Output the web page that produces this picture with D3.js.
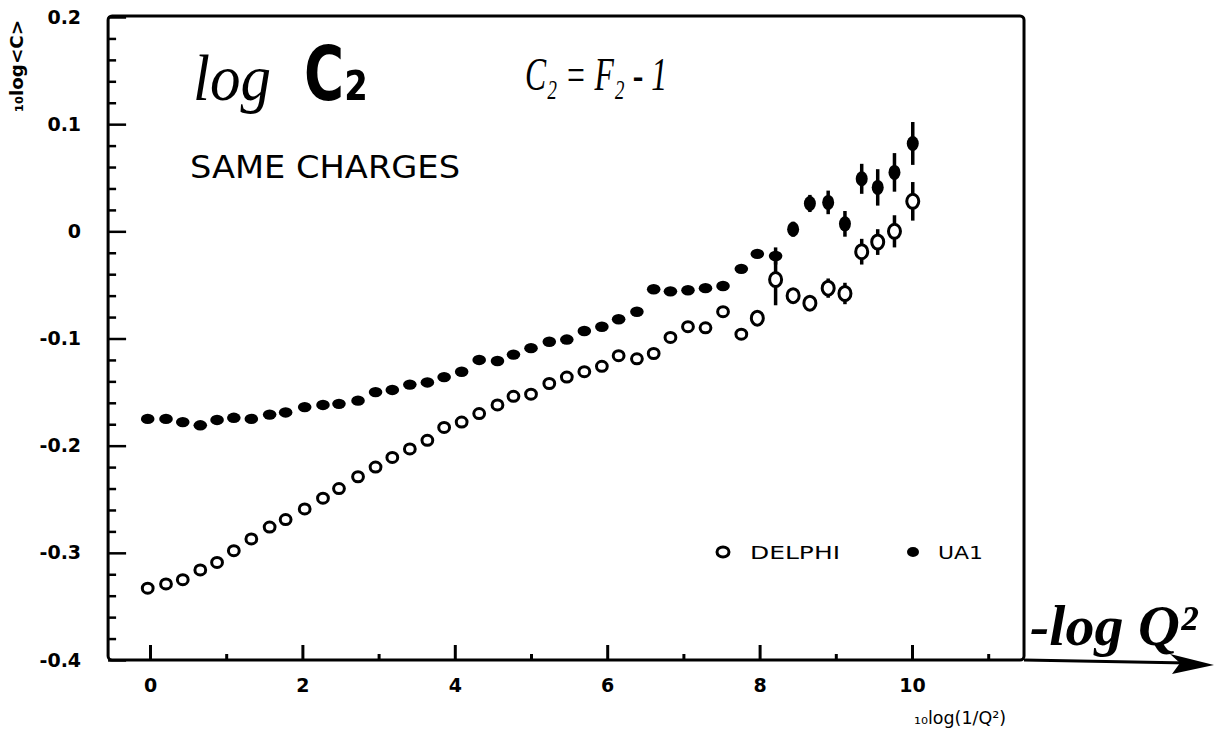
<!DOCTYPE html>
<html>
<head>
<meta charset="utf-8">
<script src="https://cdn.jsdelivr.net/npm/d3@7"></script>
<style>
  html, body { margin: 0; padding: 0; background: #fff; }
  svg { display: block; }
</style>
</head>
<body>
<svg id="chart" width="1227" height="735"></svg>
<script>
// ---------- data ----------
const xValues = [-0.03, 0.21, 0.43, 0.66, 0.88, 1.10, 1.33, 1.57, 1.78, 2.03,
                 2.27, 2.48, 2.73, 2.96, 3.18, 3.41, 3.64, 3.86, 4.09, 4.32,
                 4.56, 4.77, 5.00, 5.24, 5.47, 5.70, 5.93, 6.15, 6.39, 6.61,
                 6.83, 7.06, 7.29, 7.52, 7.76, 7.97, 8.21, 8.44, 8.66, 8.90,
                 9.12, 9.34, 9.55, 9.77, 10.01];

const ua1Values = [-0.175, -0.175, -0.178, -0.181, -0.176, -0.174, -0.175, -0.171, -0.169, -0.164,
                   -0.162, -0.161, -0.158, -0.150, -0.148, -0.143, -0.141, -0.136, -0.131, -0.120,
                   -0.121, -0.115, -0.109, -0.103, -0.101, -0.093, -0.089, -0.082, -0.075, -0.054,
                   -0.056, -0.055, -0.053, -0.051, -0.035, -0.021, -0.023, 0.002, 0.026, 0.027,
                   0.007, 0.049, 0.041, 0.055, 0.082];
const ua1Errors = [0, 0, 0, 0, 0, 0, 0, 0, 0, 0,
                   0, 0, 0, 0, 0, 0, 0, 0, 0, 0,
                   0, 0, 0, 0, 0, 0, 0, 0, 0, 0,
                   0, 0, 0, 0, 0, 0, 0.008, 0.007, 0.008, 0.011,
                   0.012, 0.014, 0.017, 0.018, 0.020];

const delphiValues = [-0.333, -0.329, -0.325, -0.316, -0.309, -0.298, -0.287, -0.276, -0.269, -0.259,
                      -0.249, -0.240, -0.229, -0.220, -0.211, -0.203, -0.195, -0.183, -0.178, -0.170,
                      -0.162, -0.154, -0.152, -0.142, -0.136, -0.131, -0.126, -0.116, -0.119, -0.114,
                      -0.099, -0.089, -0.090, -0.075, -0.096, -0.081, -0.045, -0.060, -0.067, -0.053,
                      -0.058, -0.019, -0.010, 0.000, 0.028];
const delphiErrors = [0, 0, 0, 0, 0, 0, 0, 0, 0, 0,
                      0, 0, 0, 0, 0, 0, 0, 0, 0, 0,
                      0, 0, 0, 0, 0, 0, 0, 0, 0, 0,
                      0, 0, 0, 0, 0, 0, 0.024, 0, 0, 0.009,
                      0.010, 0.012, 0.012, 0.015, 0.018];

const yMajorTicks = [0.2, 0.1, 0, -0.1, -0.2, -0.3, -0.4];
const yTickLabels = ["0.2", "0.1", "0", "-0.1", "-0.2", "-0.3", "-0.4"];
const yMinorTicks = [0.18, 0.16, 0.14, 0.12, 0.08, 0.06, 0.04, 0.02, -0.02, -0.04, -0.06, -0.08,
                     -0.12, -0.14, -0.16, -0.18, -0.22, -0.24, -0.26, -0.28, -0.32, -0.34, -0.36, -0.38];
const xMajorTicks = [0, 2, 4, 6, 8, 10];
const xTickLabels = ["0", "2", "4", "6", "8", "10"];
const xMinorTicks = [1, 3, 5, 7, 9, 11];

const seriesNames = ["DELPHI", "UA1"];

// ---------- drawing ----------
const svg = d3.select("#chart");
svg.append("rect").attr("width", 1227).attr("height", 735).attr("fill", "#fff");

const x = d3.scaleLinear().domain([0, 10]).range([150, 912]);
const y = d3.scaleLinear().domain([-0.4, 0.2]).range([660, 17]);

const frameLeft = x(-0.55), frameRight = x(11.47);
const frameTop = y(0.2) - 1, frameBottom = y(-0.4);

// frame
svg.append("rect")
  .attr("x", frameLeft).attr("y", frameTop)
  .attr("width", frameRight - frameLeft).attr("height", frameBottom - frameTop)
  .attr("rx", 4).attr("ry", 4)
  .attr("fill", "none").attr("stroke", "#000").attr("stroke-width", 3);

// arrow extending x axis
svg.append("path")
  .attr("d", `M${frameRight},${frameBottom} L1188,${frameBottom + 3}`)
  .attr("stroke", "#000").attr("stroke-width", 3.2).attr("fill", "none");
svg.append("path")
  .attr("d", `M1214,${frameBottom + 5} L1170,${frameBottom - 6} L1180,${frameBottom + 3} L1172,${frameBottom + 14} Z`)
  .attr("fill", "#000");

// y axis
const yAxisMajor = d3.axisLeft(y).tickValues(yMajorTicks).tickSize(-18).tickPadding(27)
  .tickFormat((d, i) => yTickLabels[i]);
const gy = svg.append("g").attr("transform", `translate(${frameLeft},0)`).call(yAxisMajor);
gy.select(".domain").remove();
gy.selectAll("line").attr("stroke", "#000").attr("stroke-width", 2.5);
gy.selectAll("text").attr("font-family", "DejaVu Sans").attr("font-weight", "bold")
  .attr("font-size", 19).attr("fill", "#000");

const gy2 = svg.append("g").attr("transform", `translate(${frameLeft},0)`)
  .call(d3.axisLeft(y).tickValues(yMinorTicks).tickSize(-8).tickFormat(""));
gy2.select(".domain").remove();
gy2.selectAll("line").attr("stroke", "#000").attr("stroke-width", 2.5);

// x axis
const gx = svg.append("g").attr("transform", `translate(0,${frameBottom})`)
  .call(d3.axisBottom(x).tickValues(xMajorTicks).tickSize(-15).tickPadding(19)
    .tickFormat((d, i) => xTickLabels[i]));
gx.select(".domain").remove();
gx.selectAll("line").attr("stroke", "#000").attr("stroke-width", 3);
gx.selectAll("text").attr("font-family", "DejaVu Sans").attr("font-weight", "bold")
  .attr("font-size", 19).attr("fill", "#000");

const gx2 = svg.append("g").attr("transform", `translate(0,${frameBottom})`)
  .call(d3.axisBottom(x).tickValues(xMinorTicks).tickSize(-6).tickFormat(""));
gx2.select(".domain").remove();
gx2.selectAll("line").attr("stroke", "#000").attr("stroke-width", 3);

// axis titles
svg.append("text")
  .attr("transform", "translate(23,66) rotate(-90)")
  .attr("text-anchor", "middle")
  .attr("font-family", "DejaVu Sans").attr("font-size", 18).attr("font-weight", "bold")
  .attr("textLength", 92).attr("lengthAdjust", "spacingAndGlyphs")
  .text("₁₀log<C>");

svg.append("text")
  .attr("x", 914).attr("y", 724)
  .attr("font-family", "DejaVu Sans").attr("font-size", 17)
  .attr("textLength", 92).attr("lengthAdjust", "spacingAndGlyphs")
  .text("₁₀log(1/Q²)");

// error bars
const ua1Data = xValues.map((xv, i) => ({ x: xv, y: ua1Values[i], e: ua1Errors[i] }));
const delphiData = xValues.map((xv, i) => ({ x: xv, y: delphiValues[i], e: delphiErrors[i] }));

svg.append("g").selectAll("line")
  .data(ua1Data.filter(d => d.e > 0).concat(delphiData.filter(d => d.e > 0)))
  .join("line")
  .attr("x1", d => x(d.x)).attr("x2", d => x(d.x))
  .attr("y1", d => y(d.y + d.e)).attr("y2", d => y(d.y - d.e))
  .attr("stroke", "#000").attr("stroke-width", 3.5);

// DELPHI open circles
svg.append("g").selectAll("ellipse")
  .data(delphiData)
  .join("ellipse")
  .attr("cx", d => x(d.x)).attr("cy", d => y(d.y))
  .attr("rx", d => d.x > 7.9 ? 6 : 5.4).attr("ry", d => d.x > 7.9 ? 7 : 5)
  .attr("fill", "#fff").attr("stroke", "#000").attr("stroke-width", 3);

// UA1 filled
svg.append("g").selectAll("ellipse")
  .data(ua1Data)
  .join("ellipse")
  .attr("cx", d => x(d.x)).attr("cy", d => y(d.y))
  .attr("rx", d => d.x > 8.3 ? 6 : 6.8).attr("ry", d => d.x > 8.3 ? 7.5 : 5.2)
  .attr("fill", "#000");

// legend
svg.append("ellipse").attr("cx", 723).attr("cy", 552).attr("rx", 6).attr("ry", 5)
  .attr("fill", "#fff").attr("stroke", "#000").attr("stroke-width", 3);
svg.append("text").attr("x", 750).attr("y", 559)
  .attr("font-family", "DejaVu Sans").attr("font-size", 18)
  .attr("textLength", 90).attr("lengthAdjust", "spacingAndGlyphs")
  .text(seriesNames[0]);
svg.append("ellipse").attr("cx", 913).attr("cy", 552).attr("rx", 6).attr("ry", 5).attr("fill", "#000");
svg.append("text").attr("x", 938).attr("y", 559)
  .attr("font-family", "DejaVu Sans").attr("font-size", 18)
  .attr("textLength", 45).attr("lengthAdjust", "spacingAndGlyphs")
  .text(seriesNames[1]);

// handwritten annotations
const hand = "Liberation Serif";
svg.append("text").attr("x", 193).attr("y", 100)
  .attr("font-family", hand).attr("font-style", "italic").attr("font-size", 66)
  .attr("textLength", 78).attr("lengthAdjust", "spacingAndGlyphs")
  .text("log");
svg.append("text").attr("x", 304).attr("y", 100)
  .attr("font-family", "DejaVu Sans").attr("font-weight", "bold").attr("font-size", 74)
  .attr("textLength", 64).attr("lengthAdjust", "spacingAndGlyphs")
  .text("C₂");

svg.append("text").attr("x", 525).attr("y", 90)
  .attr("font-family", hand).attr("font-style", "italic").attr("font-size", 46)
  .attr("textLength", 142).attr("lengthAdjust", "spacingAndGlyphs")
  .text("C₂ = F₂ - 1");

svg.append("text").attr("x", 190).attr("y", 178)
  .attr("font-family", "DejaVu Sans").attr("font-size", 32)
  .attr("textLength", 270).attr("lengthAdjust", "spacingAndGlyphs")
  .text("SAME CHARGES");

svg.append("text").attr("x", 1030).attr("y", 645)
  .attr("font-family", hand).attr("font-style", "italic").attr("font-weight", "bold").attr("font-size", 58)
  .text("-log Q²");
</script>
</body>
</html>
